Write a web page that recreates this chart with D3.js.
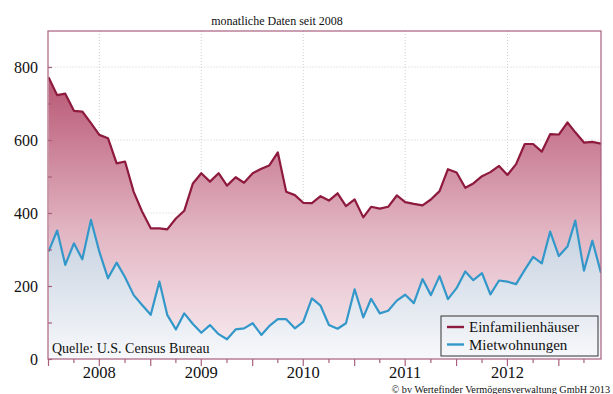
<!DOCTYPE html>
<html><head><meta charset="utf-8">
<script src="https://cdn.jsdelivr.net/npm/d3@7"></script>
<style>
html,body{margin:0;padding:0;background:#fff;}
svg{display:block;font-family:"Liberation Serif","DejaVu Serif",serif;}
</style></head>
<body><svg id="c" width="613" height="394"></svg>
<script>
// ---- data (thousands, monthly since Jan 2008) ----
const startMonth = new Date(2008, 0, 1);
const endMonth = new Date(2013, 5, 1);
const einfamilien = [772,723,727,680,678,646,614,605,536,541,458,404,
  358,358,355,385,406,481,509,486,509,475,498,483,
  509,521,530,566,458,449,428,427,446,434,454,419,
  437,388,417,412,417,448,430,425,421,437,460,520,
  511,469,481,501,512,529,504,534,589,589,568,616,
  615,648,621,593,595,590];
const mietwohnungen = [294,352,258,317,273,381,294,221,264,224,175,148,
  121,212,121,81,125,96,72,93,68,54,81,84,
  98,66,90,109,109,84,102,166,146,93,83,98,
  191,114,165,125,132,160,176,153,219,175,227,164,
  194,240,216,235,177,215,212,205,244,280,262,349,
  282,308,379,242,324,236];
const seriesNames = ["Einfamilienhäuser", "Mietwohnungen"];
const yTicks = [0, 200, 400, 600, 800];
const yearLabels = [2008, 2009, 2010, 2011, 2012];
const subtitle = "monatliche Daten seit 2008";
const sourceText = "Quelle: U.S. Census Bureau";
const copyrightText = "© bv Wertefinder Vermögensverwaltung GmbH 2013";

const months = d3.timeMonth.range(startMonth, d3.timeMonth.offset(endMonth, 1));

const svg = d3.select("#c");
const L = 48.5, R = 601, T = 31, B = 359;
const x = d3.scaleTime().domain([startMonth, endMonth]).range([L, R]);
const y = d3.scaleLinear().domain([0, 900]).range([B, 30.5]);

const defs = svg.append("defs");
const gR = defs.append("linearGradient").attr("id","gr").attr("gradientUnits","userSpaceOnUse")
  .attr("x1",0).attr("x2",0).attr("y1",y(780)).attr("y2",B);
gR.append("stop").attr("offset",0).attr("stop-color","#b75472");
gR.append("stop").attr("offset",0.55).attr("stop-color","#e2b5c3");
gR.append("stop").attr("offset",1).attr("stop-color","#f9eef2");
const gB = defs.append("linearGradient").attr("id","gb").attr("gradientUnits","userSpaceOnUse")
  .attr("x1",0).attr("x2",0).attr("y1",y(380)).attr("y2",B);
gB.append("stop").attr("offset",0).attr("stop-color","#c3cfde");
gB.append("stop").attr("offset",1).attr("stop-color","#f7f8fb");
defs.append("clipPath").attr("id","clip").append("rect")
  .attr("x",L).attr("y",T).attr("width",R-L).attr("height",B-T);

// gridlines
const grid = svg.append("g").attr("stroke","#cfcfcf").attr("stroke-width",1).attr("stroke-dasharray","1,2");
grid.selectAll(".h").data(yTicks.filter(d=>d>0)).join("line")
  .attr("x1",L).attr("x2",R).attr("y1",d=>y(d)).attr("y2",d=>y(d));
grid.selectAll(".v").data(yearLabels).join("line")
  .attr("x1",d=>x(new Date(d,6,1))).attr("x2",d=>x(new Date(d,6,1))).attr("y1",T).attr("y2",B);

const plot = svg.append("g").attr("clip-path","url(#clip)");
const area = vals => d3.area().x((d,i)=>x(months[i])).y0(y(0)).y1(d=>y(d))(vals);
const line = vals => d3.line().x((d,i)=>x(months[i])).y(d=>y(d))(vals);
plot.append("path").attr("d",area(einfamilien)).attr("fill","url(#gr)");
plot.append("path").attr("d",area(mietwohnungen)).attr("fill","url(#gb)");
plot.append("path").attr("d",line(einfamilien)).attr("fill","none")
  .attr("stroke","#8e1a3d").attr("stroke-width",2.2).attr("stroke-linejoin","round");
plot.append("path").attr("d",line(mietwohnungen)).attr("fill","none")
  .attr("stroke","#3398c9").attr("stroke-width",2.2).attr("stroke-linejoin","round");

// frame
const frameColor = "#a9607e";
svg.append("rect").attr("x",L-0.5).attr("y",T).attr("width",R-L+0.5).attr("height",B-T)
  .attr("fill","none").attr("stroke",frameColor).attr("stroke-width",1.2);

// y axis
const yAxis = d3.axisLeft(y).tickValues(d3.range(0, 900, 100)).tickSize(-4)
  .tickFormat(d => yTicks.includes(d) ? d : "");
const ya = svg.append("g").attr("transform",`translate(${L-0.5},0)`).call(yAxis)
  .attr("font-family","Liberation Serif");
ya.select(".domain").remove();
ya.selectAll("line").attr("stroke",frameColor).attr("stroke-width",1.2);
ya.selectAll("text").attr("x",-10).attr("dy","0.36em").attr("font-size",16)
  .attr("fill","#111");

// x axis ticks
const qTicks = d3.timeMonth.every(3).range(startMonth, d3.timeMonth.offset(endMonth,1));
const xa = svg.append("g");
xa.selectAll("line").data(qTicks).join("line")
  .attr("x1",d=>x(d)).attr("x2",d=>x(d)).attr("y1",B)
  .attr("y2",d=> (d.getMonth()%6===0) ? B+7 : B+4)
  .attr("stroke",frameColor).attr("stroke-width",1.2);
xa.selectAll("text").data(yearLabels).join("text")
  .attr("x",d=>x(new Date(d,6,1))).attr("y",378).attr("text-anchor","middle")
  .attr("font-size",16.5).attr("fill","#111").text(d=>d);

// texts
svg.append("text").attr("x",277).attr("y",25).attr("text-anchor","middle")
  .attr("font-size",12).attr("fill","#111").text(subtitle);
svg.append("text").attr("x",52).attr("y",353).attr("font-size",14)
  .attr("fill","#111").text(sourceText);
svg.append("text").attr("x",610).attr("y",393).attr("text-anchor","end")
  .attr("font-size",10.2).attr("fill","#111").text(copyrightText);

// legend
const lg = svg.append("g");
lg.append("rect").attr("x",441).attr("y",316).attr("width",157).attr("height",40)
  .attr("fill","none").attr("stroke","#333").attr("stroke-width",1);
const lcol = ["#8e1a3d","#3398c9"];
seriesNames.forEach((n,i)=>{
  const yy = 327 + i*17.5;
  lg.append("line").attr("x1",447).attr("x2",464).attr("y1",yy).attr("y2",yy)
    .attr("stroke",lcol[i]).attr("stroke-width",2.4);
  lg.append("text").attr("x",469).attr("y",yy+5).attr("font-size",15)
    .attr("fill","#111").text(n);
});
</script>
</body></html>
